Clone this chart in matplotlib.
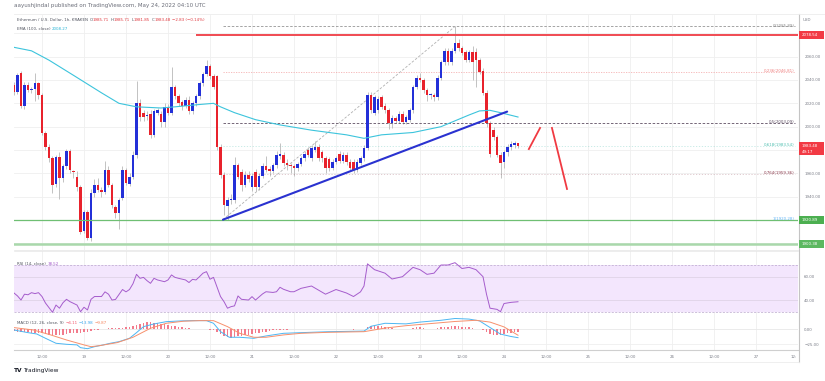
import matplotlib
matplotlib.use('Agg')
import matplotlib.pyplot as plt
from matplotlib.patches import Rectangle
from matplotlib.transforms import IdentityTransform
import numpy as np

# ---- data (hour 0 = May 19 00:00 UTC, 1h candles) ----
hours = list(range(-20, 125))
opens = [2036, 2030, 2046, 2018, 2036, 2031, 2032, 2037, 2027, 1995, 1983, 1973, 1951, 1974, 1956, 1966,
         1979, 1962, 1957, 1948, 1911, 1927, 1905, 1943, 1950, 1946, 1944, 1963, 1950, 1931, 1926, 1939,
         1963, 1951, 1957, 1976, 2020, 2012, 2009, 2011, 1993, 2012, 2011, 2004, 2017, 2012, 2034, 2026,
         2021, 2018, 2023, 2013, 2020, 2026, 2037, 2045, 2052, 2043, 2043, 1983, 1959, 1932, 1937, 1937,
         1967, 1961, 1950, 1959, 1948, 1961, 1948, 1958, 1966, 1964, 1962, 1967, 1975, 1976, 1969, 1967,
         1966, 1965, 1968, 1973, 1980, 1973, 1980, 1983, 1978, 1973, 1972, 1965, 1970, 1977, 1971, 1976,
         1970, 1970, 1963, 1969, 1973, 1982, 2027, 2012, 2014, 2025, 2018, 2014, 2003, 2007, 2005, 2011,
         2004, 2006, 2014, 2034, 2042, 2040, 2031, 2027, 2027, 2025, 2042, 2055, 2065, 2055, 2065, 2072,
         2067, 2064, 2057, 2064, 2064, 2057, 2048, 2029, 2003, 1997, 1991, 1976, 1970, 1978, 1983, 1984,
         1985.71]
highs = [2038, 2046, 2048, 2038, 2038, 2034, 2046, 2038, 2029, 1996, 1985, 1975, 1976, 1978, 1968, 1981,
         1981, 1963, 1962, 1950, 1929, 1929, 1947, 1955, 1956, 1948, 1971, 1966, 1952, 1933, 1939, 1966,
         1965, 1960, 1979, 2039, 2024, 2014, 2013, 2014, 2015, 2016, 2013, 2020, 2019, 2051, 2036, 2028,
         2023, 2025, 2026, 2022, 2028, 2039, 2047, 2057, 2054, 2045, 2044, 1985, 1961, 1940, 1942, 1974,
         1969, 1964, 1962, 1962, 1960, 1964, 1960, 1969, 1975, 1966, 1969, 1979, 1986, 1978, 1972, 1969,
         1968, 1970, 1975, 1979, 1983, 1984, 1988, 1985, 1980, 1975, 1974, 1972, 1975, 1979, 1978, 1978,
         1972, 1972, 1972, 1975, 1984, 2030, 2030, 2027, 2026, 2027, 2020, 2016, 2010, 2009, 2013, 2013,
         2010, 2016, 2036, 2044, 2046, 2042, 2033, 2029, 2029, 2044, 2057, 2067, 2067, 2067, 2085.89, 2075,
         2069, 2066, 2066, 2069, 2067, 2059, 2050, 2031, 2005, 2000, 1993, 1978, 1980, 1985, 1988, 1988,
         1985.71]
lows = [2027, 2028, 2016, 2015, 2030, 2029, 2022, 2024, 1993, 1980, 1970, 1943, 1948, 1938, 1953, 1964,
        1960, 1956, 1945, 1908, 1909, 1903, 1902, 1940, 1944, 1940, 1942, 1948, 1930, 1922, 1912, 1937,
        1950, 1949, 1955, 1973, 2005, 2005, 2006, 1990, 1991, 2010, 2000, 2000, 2010, 2010, 2024, 2018,
        2014, 2016, 2011, 2011, 2018, 2024, 2035, 2043, 2041, 2032, 1980, 1956, 1924, 1920, 1934, 1935,
        1955, 1945, 1948, 1953, 1945, 1945, 1946, 1956, 1961, 1958, 1960, 1965, 1972, 1966, 1963, 1960,
        1958, 1962, 1966, 1971, 1974, 1971, 1978, 1971, 1970, 1960, 1962, 1963, 1968, 1969, 1969, 1967,
        1962, 1960, 1961, 1967, 1971, 1980, 2012, 2010, 2012, 2015, 2012, 1998, 1999, 2003, 2003, 2002,
        2002, 2004, 2012, 2032, 2038, 2029, 2022, 2024, 2022, 2023, 2040, 2053, 2053, 2053, 2063, 2065,
        2061, 2055, 2055, 2040, 2034, 2045, 2027, 2000, 1974, 1989, 1974, 1956, 1965, 1975, 1980, 1982,
        1981.85]
closes = [2030, 2044, 2018, 2036, 2031, 2032, 2037, 2027, 1995, 1983, 1973, 1950, 1974, 1956, 1966, 1979,
          1963, 1961, 1948, 1910, 1927, 1905, 1943, 1950, 1946, 1944, 1963, 1950, 1933, 1926, 1937, 1963,
          1952, 1957, 1976, 2020, 2008, 2008, 2010, 1993, 2013, 2014, 2004, 2017, 2012, 2034, 2026, 2020,
          2018, 2023, 2013, 2020, 2026, 2037, 2045, 2052, 2043, 2034, 1983, 1959, 1933, 1937, 1938, 1967,
          1957, 1950, 1959, 1955, 1958, 1948, 1958, 1966, 1963, 1962, 1967, 1976, 1977, 1969, 1967, 1966,
          1965, 1968, 1973, 1977, 1976, 1982, 1983, 1973, 1973, 1965, 1965, 1970, 1973, 1971, 1976, 1970,
          1965, 1963, 1970, 1973, 1982, 2027, 2014, 2025, 2024, 2017, 2014, 2003, 2007, 2005, 2011, 2004,
          2008, 2014, 2034, 2042, 2040, 2031, 2027, 2027, 2025, 2042, 2055, 2065, 2055, 2065, 2072, 2067,
          2063, 2057, 2064, 2055, 2057, 2047, 2029, 2003, 1977, 1991, 1976, 1969, 1978, 1983, 1985, 1986,
          1983.48]

ema_h = [-20, -15, -10, -3, 5, 10, 15, 22, 26, 33, 37, 39, 43, 49, 56, 65, 75, 80, 85, 94, 102, 106, 110,
         113, 116, 119, 124]
ema_v = [2068, 2065, 2057, 2044, 2029, 2020, 2017, 2016, 2017, 2019, 2020, 2017, 2012, 2006, 2001.5, 1997,
         1993, 1990, 1993, 1995, 2000, 2005, 2010, 2013.5, 2014, 2012, 2008.27]

rsi_h = [-20, -19, -18, -17, -16, -15, -14, -13, -12, -11, -9, -8, -7, -6, -5, -4, -2, -1, 0, 1, 2, 3, 5, 6,
         7, 8, 9, 11, 12, 13, 14, 15, 16, 17, 18, 19, 20, 21, 23, 24, 25, 26, 27, 29, 30, 31, 32, 33, 34,
         35, 36, 37, 39, 40, 41, 42, 43, 44, 45, 47, 48, 49, 51, 52, 54, 55, 56, 57, 59, 60, 62, 65, 69,
         72, 75, 77, 79, 80, 81, 83, 86, 88, 91, 94, 96, 98, 100, 102, 104, 106, 108, 110, 112, 114, 115,
         116, 118, 119, 120, 122, 124]
rsi_v = [46, 43.5, 40, 45, 44.5, 46.3, 45.5, 46.3, 43, 37.4, 29.5, 35.7, 33, 37.7, 40.6, 38.6, 35.7, 30,
         33.8, 31.5, 40.6, 43, 43, 47, 45, 40, 40.5, 49, 47, 49, 54, 62, 58.6, 59.4, 56.6, 54.3, 58.6, 57.2,
         55.7, 57.2, 61.5, 59.4, 58.6, 57.2, 55, 57.7, 57.2, 60, 63, 64.3, 57.8, 59.4, 43, 38.6, 33, 34.3,
         35, 43.5, 40.6, 40, 42.9, 40, 45.2, 47.1, 46.5, 47.1, 50.9, 49.2, 47.1, 47.1, 50, 52, 45, 49, 46,
         43, 47, 52, 71, 66, 63, 58, 60, 68, 66, 62, 63, 70, 70, 72, 67, 68, 66, 60, 45, 33, 32, 30, 37, 38,
         38.52]

macd_h = [-20, -16, -13.5, -11, -8, -5, -2, -1, 1, 3, 5.5, 7.5, 10, 13, 15, 17, 20, 23.5, 27.5, 31, 35, 37,
          39, 41.5, 44.5, 48.5, 52, 57, 62, 70, 80, 82, 86, 92, 96, 102, 106, 110, 113, 116, 119, 122, 124]
macd_v = [-1.2, -5.6, -7.8, -15, -23.3, -25, -26, -30.6, -32.3, -29, -26, -23.3, -20.6, -15, -5.6, 4.4, 8.9,
          12.7, 13.9, 14.4, 14.4, 10, -3.9, -13.3, -13.3, -15, -11.1, -6.7, -5.6, -4, -3, 5, 10, 9, 12, 15,
          18, 17, 14, 3, -8, -12, -13.98]
signal_h = [-20, -14.5, -9.5, -5, 0, 2, 4.5, 9.5, 14, 19, 23.5, 28.5, 33, 37, 41, 44.5, 48.5, 52, 57, 62, 70,
            80, 86, 92, 100, 106, 112, 116, 120, 124]
signal_v = [2.8, -1.1, -9.4, -17.8, -26, -29, -27.2, -22.2, -13.3, 1.7, 10, 13.5, 14.4, 14.4, 4.4, -6.7,
            -13.3, -13.3, -9.4, -6.7, -5, -4, 2, 6, 10, 13, 15, 12, 4, -9.87]
hist_v = [-3, -4, -5, -5, -5, -6, -6, -6, -7, -8, -9, -10, -10, -10, -9, -8, -7, -7, -6, -6, -5,
          -4, -3, -2, -1, 0, 1, 2, 2, 2, 2, 2, 3, 4, 5, 7, 9, 11, 12, 12, 11, 10,
          9, 8, 7, 6, 5, 4, 3, 2, 2, 1, 1, 1, 1, 0, -1, -2, -5, -8, -11, -13, -14,
          -13, -12, -11, -10, -9, -8, -7, -6, -5, -4, -3, -2, -2, -1, -1, -1, 0, 0, 1, 1, 1,
          1, 1, 1, 1, 1, 1, 0, 0, 0, 0, 0, 0, 0, -1, 0, 0, 1, 4, 5, 6, 6,
          5, 4, 3, 2, 1, 1, 0, 0, 1, 2, 3, 3, 2, 1, 1, 1, 2, 3, 4, 4, 5,
          5, 5, 4, 3, 3, 2, 1, 0, -2, -5, -8, -9, -10, -10, -8, -7, -6, -5, -4.11]

# drawings
fib_start, fib_end = 39.7, 106
fib_levels = [0, 0.236, 0.5, 0.618, 0.764, 1]
fib_prices = [2085.89, 2046.81, 2003.09, 1983.54, 1959.36, 1920.28]
fib_colors = ['#8a8a8a', '#ef7f7f', '#5e4e62', '#4fbfb0', '#8c3a4c', '#64b5f6']
trend_h, trend_p = [39.7, 120.9], [1920.3, 2012.9]
proj1_h, proj1_p = [127.1, 130.3], [1980.8, 1998.9]
proj2_h, proj2_p = [133.7, 138.0], [1998.9, 1946.6]
resist_price, resist_from = 2078.54, 32
support1, support2 = 1920.28, 1899.6

tick_hours = list(range(-12, 193, 12))
tick_labels = ['12:00', '19', '12:00', '20', '12:00', '21', '12:00', '22', '12:00', '23',
               '12:00', '24', '12:00', '25', '12:00', '26', '12:00', '27']

# ---- style ----
BLUE, RED, WICK = '#2330d8', '#e8222c', '#b8b8b8'
GRID, TXT = '#efefef', '#7b7e88'
FS = 2.9

fig = plt.figure(figsize=(8.25, 3.81), dpi=100)
fig.patch.set_facecolor('white')

def fy(py):
    return 1 - py / 381

L, R = 14, 798
ax = fig.add_axes([L / 825, fy(250), (R - L) / 825, 235 / 381])
rsi_ax = fig.add_axes([L / 825, fy(318), (R - L) / 825, 67 / 381], sharex=ax)
macd_ax = fig.add_axes([L / 825, fy(350), (R - L) / 825, 32 / 381], sharex=ax)

for a in (ax, rsi_ax, macd_ax):
    for s in a.spines.values():
        s.set_visible(False)
    a.set_facecolor('white')
    a.tick_params(length=0, labelsize=FS, colors=TXT)
    a.yaxis.tick_right()
    a.tick_params(axis='y', pad=4.5)
    for t in tick_hours:
        a.axvline(t, color=GRID, lw=0.6, zorder=0)
    a.set_xticks(tick_hours)

ax.set_xlim(-20, 204)
ax.set_ylim(1894.3, 2095.7)
rsi_ax.set_ylim(24.6, 82.0)
macd_ax.set_ylim(-34.5, 18.8)
ax.tick_params(axis='x', labelbottom=False)
rsi_ax.tick_params(axis='x', labelbottom=False)
macd_ax.set_xticklabels(tick_labels)
macd_ax.tick_params(axis='x', pad=3.5)

price_ticks = list(range(1900, 2081, 20))
ax.set_yticks(price_ticks)
ax.set_yticklabels(['' if p in (1900, 1920, 1980, 2080) else '%.2f' % p for p in price_ticks])
for p in price_ticks:
    ax.axhline(p, color=GRID, lw=0.6, zorder=0)
ax.spines['bottom'].set_visible(True)
ax.spines['bottom'].set_color('#e4e4e4')
ax.spines['bottom'].set_linewidth(0.5)

# candles
h = np.array(hours)
o, c = np.array(opens), np.array(closes)
hi, lo = np.array(highs), np.array(lows)
up = c >= o
ax.vlines(h, lo, hi, color=WICK, lw=0.6, zorder=2)
body = np.where(np.abs(c - o) < 0.8, 0.8, c - o)
ax.bar(h, body, bottom=o, width=0.72, color=np.where(up, BLUE, RED), lw=0, zorder=3)

# EMA
ax.plot(ema_h, ema_v, color='#3cc4dc', lw=0.8, zorder=4)

# support / resistance
ax.axhline(support1, color='#6fbf73', lw=0.9, zorder=4)
ax.axhline(support2, color='#a9d8ab', lw=1.8, zorder=4)
ax.plot([resist_from, 204], [resist_price] * 2, color='#f04a52', lw=1.4, zorder=4, solid_capstyle='butt')

# fib retracement
fib_styles = [(0, (3, 2)), (0, (1.5, 1.5)), (0, (3, 2)), (0, (1.5, 2)), (0, (1.5, 2)), (0, (3, 2))]
fib_alpha = [0.9, 0.6, 1.0, 0.35, 0.3, 0.0]
for lev, pr, col, st, al in zip(fib_levels, fib_prices, fib_colors, fib_styles, fib_alpha):
    if al > 0:
        ax.plot([fib_start, 203], [pr, pr], color=col, lw=0.6, ls=st, alpha=al, zorder=2)
    ax.text(203, pr + 0.8, '%g(%.2f)' % (lev, pr), color=col, fontsize=FS, ha='right', va='center', zorder=6)
ax.plot([fib_start, fib_end], [fib_prices[-1], fib_prices[0]], color='#b0b0b0', lw=0.6, ls=(0, (3, 2)), zorder=2)

# trend line and projections
ax.plot(trend_h, trend_p, color='#2a32d0', lw=1.5, zorder=5, solid_capstyle='round')
ax.plot(proj1_h, proj1_p, color='#f03a42', lw=1.3, zorder=5)
ax.plot(proj2_h, proj2_p, color='#f03a42', lw=1.3, zorder=5)

# RSI
rsi_ax.fill_between([-20, 204], 30, 70, color='#f3e6fd', lw=0, zorder=0)
for lv in (70, 30):
    rsi_ax.axhline(lv, color='#b9a6cc', lw=0.5, ls=(0, (3, 2)), zorder=1)
for lv in (60, 40):
    rsi_ax.axhline(lv, color='#e2d6ea', lw=0.7, zorder=1)
rsi_ax.set_yticks([60, 40])
rsi_ax.set_yticklabels(['60.00', '40.00'])
rsi_ax.plot(rsi_h, rsi_v, color='#a55ccc', lw=0.7, zorder=3)
rsi_ax.spines['top'].set_visible(True)
rsi_ax.spines['top'].set_color('#e6e6e6')
rsi_ax.spines['top'].set_linewidth(0.5)

# MACD
macd_ax.axhline(0, color='#e8e8e8', lw=0.6, zorder=0)
macd_ax.axhline(-25, color='#efefef', lw=0.6, zorder=0)
macd_ax.bar(h, hist_v, width=0.35, color='#f27b8c', lw=0, zorder=2)
macd_ax.plot(macd_h, macd_v, color='#4cb6f2', lw=0.7, zorder=3)
macd_ax.plot(signal_h, signal_v, color='#f7906c', lw=0.7, zorder=3)
macd_ax.set_yticks([0, -25])
macd_ax.set_yticklabels(['0.00', '\u221225.00'])
macd_ax.spines['bottom'].set_visible(True)
macd_ax.spines['bottom'].set_color('#cfcfcf')
macd_ax.spines['bottom'].set_linewidth(0.8)
fig.text(797 / 825, fy(357), '12:', fontsize=FS, color=TXT, ha='right', va='center')

# right scale border
fig.add_artist(plt.Line2D([799 / 825] * 2, [fy(14), fy(362)], color='#c4c4c4', lw=0.8))
fig.add_artist(plt.Line2D([L / 825, 825 / 825], [fy(14), fy(14)], color='#ececec', lw=0.6))
fig.add_artist(plt.Line2D([L / 825, 799 / 825], [fy(362), fy(362)], color='#ececec', lw=0.6))
fig.text(803 / 825, fy(20), 'USD', fontsize=FS, color=TXT, va='center')

fig.canvas.draw()
renderer = fig.canvas.get_renderer()

# axis tags
def tag(a, val, text, fc, hpx=8.0, sub=None):
    yd = a.transData.transform((0, val))[1]
    extra = 5.5 if sub else 0
    fig.add_artist(Rectangle((799, yd - hpx / 2 - extra), 25, hpx + extra, transform=IdentityTransform(),
                             fc=fc, ec='none', zorder=5))
    fig.text(802 / 825, yd / 381, text, fontsize=FS, color='white', va='center', ha='left', zorder=6)
    if sub:
        fig.text(802 / 825, (yd - 6) / 381, sub, fontsize=FS, color='white', va='center', ha='left', zorder=6)

tag(ax, resist_price, '2078.54', '#f23a44')
tag(ax, closes[-1], '1983.48', '#f23a44', sub='49:17')
tag(ax, support1, '1920.89', '#4caf50')
tag(ax, support2, '1900.38', '#5cb860')

# legend rows, laid out piece by piece
def row(x0, ypx, parts, size=FS):
    x = x0
    for s, col, gap in parts:
        t = fig.text(x / 825, fy(ypx), s, fontsize=size, color=col, va='center')
        x = t.get_window_extent(renderer=renderer).x1 + gap

GRAY, VAL = '#50535e', '#e0383e'
fig.text(14 / 825, fy(5.5), 'aayushjindal published on TradingView.com, May 24, 2022 04:10 UTC',
         fontsize=4.0, color='#6a6d78', va='center')
row(17, 20, [('Ethereum / U.S. Dollar, 1h, KRAKEN', GRAY, 1.5),
             ('O', GRAY, 0.2), ('%.2f' % opens[-1], VAL, 1.5),
             ('H', GRAY, 0.2), ('%.2f' % highs[-1], VAL, 1.5),
             ('L', GRAY, 0.2), ('%.2f' % lows[-1], VAL, 1.5),
             ('C', GRAY, 0.2), ('%.2f' % closes[-1], VAL, 1.5),
             ('\u22122.83 (\u22120.14%)', VAL, 0)])
row(17, 28.5, [('EMA (100, close)', GRAY, 1.5), ('%.2f' % ema_v[-1], '#27b4d6', 0)])
row(17, 264, [('RSI (14, close)', GRAY, 1.5), ('%.2f' % rsi_v[-1], '#a55ccc', 0)])
row(17, 323, [('MACD (12, 26, close, 9)', GRAY, 1.5), ('\u22124.11', '#f2546a', 1.5),
              ('\u221213.98', '#3aa8ee', 1.5), ('\u22129.87', '#f4845c', 0)])

# footer logo
fig.text(14 / 825, fy(370.5), 'TV', fontsize=4.2, color='#131722', va='center', fontweight='bold')
fig.text(23 / 825, fy(370.5), 'TradingView', fontsize=4.2, color='#131722', va='center')

fig.savefig('out.png', dpi=100)
